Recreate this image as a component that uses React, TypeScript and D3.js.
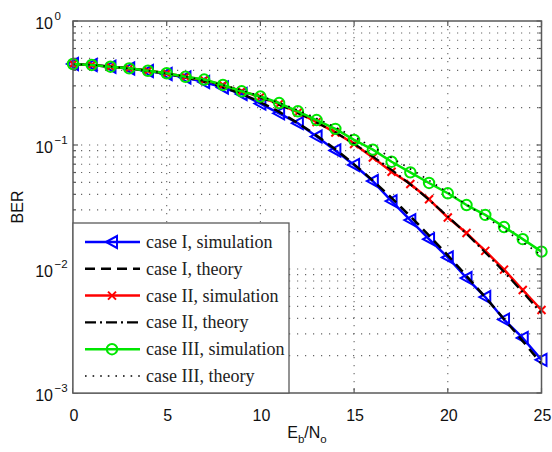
import React from "react";
import * as d3 from "d3";

const EBN0 = [0, 1, 2, 3, 4, 5, 6, 7, 8, 9, 10, 11, 12, 13, 14, 15, 16, 17, 18, 19, 20, 21, 22, 23, 24, 25];

const caseISim = [0.45, 0.442, 0.428, 0.414, 0.395, 0.374, 0.35, 0.322, 0.291, 0.258, 0.216, 0.18, 0.15, 0.117, 0.0903, 0.069, 0.0512, 0.0353, 0.0248, 0.0174, 0.0124, 0.00846, 0.00594, 0.00391, 0.00278, 0.00185];
const caseITheory = [0.449, 0.442, 0.43, 0.415, 0.397, 0.376, 0.351, 0.323, 0.292, 0.258, 0.221, 0.185, 0.15, 0.119, 0.0923, 0.0698, 0.0516, 0.0374, 0.0266, 0.0186, 0.0129, 0.00877, 0.00592, 0.00395, 0.00262, 0.00172];
const caseIISim = [0.45, 0.442, 0.428, 0.415, 0.397, 0.379, 0.355, 0.334, 0.305, 0.272, 0.244, 0.214, 0.183, 0.153, 0.126, 0.102, 0.0793, 0.0609, 0.0485, 0.0365, 0.026, 0.0195, 0.014, 0.00989, 0.00677, 0.00467];
const caseIITheory = [0.449, 0.442, 0.429, 0.414, 0.397, 0.378, 0.355, 0.33, 0.302, 0.272, 0.242, 0.211, 0.181, 0.152, 0.126, 0.102, 0.0807, 0.063, 0.0481, 0.0361, 0.0265, 0.0192, 0.0136, 0.00948, 0.0065, 0.00439];
const caseIIISim = [0.45, 0.442, 0.428, 0.415, 0.397, 0.379, 0.355, 0.337, 0.305, 0.271, 0.246, 0.218, 0.187, 0.159, 0.135, 0.11, 0.0918, 0.0733, 0.0602, 0.0494, 0.0408, 0.0328, 0.0273, 0.0218, 0.0174, 0.0138];
const caseIIITheory = [0.449, 0.442, 0.429, 0.414, 0.397, 0.378, 0.356, 0.331, 0.305, 0.277, 0.248, 0.219, 0.191, 0.164, 0.139, 0.116, 0.0962, 0.0789, 0.0641, 0.0518, 0.0415, 0.0331, 0.0263, 0.0208, 0.0164, 0.0129];

const xTicks = [0, 5, 10, 15, 20, 25];
const yDecades = [1, 0.1, 0.01, 0.001];
const yExponents = ["0", "−1", "−2", "−3"];
const legendLabels = ["case I, simulation", "case I, theory", "case II, simulation", "case II, theory", "case III, simulation", "case III, theory"];

const W = 552, H = 452;
const L = 73, R = 541.5, T = 21, B = 393;

const x = d3.scaleLinear().domain([0, 25]).range([L, R]);
const y = d3.scaleLog().domain([1e-3, 1]).range([B, T]);

const AX = "#5a5a5a";
const SANS = "'Liberation Sans', Arial, Helvetica, sans-serif";
const SERIF = "'Liberation Serif', 'Times New Roman', serif";

type Series = { vals: number[]; color: string; dash?: string; width: number; marker?: "tri" | "x" | "o"; curve?: boolean };

const series: Series[] = [
  { vals: caseISim, color: "#0000ff", width: 2.5, marker: "tri" },
  { vals: caseITheory, color: "#000", width: 2.5, dash: "10,6", curve: true },
  { vals: caseIISim, color: "#ff0000", width: 2.5, marker: "x" },
  { vals: caseIITheory, color: "#000", width: 2.2, dash: "11,4,2,4", curve: true },
  { vals: caseIIISim, color: "#00e600", width: 2.5, marker: "o" },
  { vals: caseIIITheory, color: "#000", width: 1.6, dash: "1.6,6", curve: true },
];

function Marker({ kind, cx, cy, color }: { kind: string; cx: number; cy: number; color: string }) {
  if (kind === "tri")
    return <path d={`M${cx - 6},${cy} L${cx + 5},${cy - 6} L${cx + 5},${cy + 6} Z`} fill="none" stroke={color} strokeWidth={2} strokeLinejoin="miter" />;
  if (kind === "x")
    return (
      <path d={`M${cx - 4},${cy - 4} L${cx + 4},${cy + 4} M${cx - 4},${cy + 4} L${cx + 4},${cy - 4}`} stroke={color} strokeWidth={2} />
    );
  return <circle cx={cx} cy={cy} r={5.2} fill="none" stroke={color} strokeWidth={2} />;
}

export default function App() {
  const minors: number[] = [];
  [0.001, 0.01, 0.1].forEach((d) => {
    for (let k = 1; k <= 9; k++) minors.push(d * k);
  });
  minors.push(1);

  const lineGen = (curve: boolean) =>
    d3
      .line<number>()
      .x((_, i) => x(EBN0[i]))
      .y((v) => y(v))
      .curve(curve ? d3.curveMonotoneX : d3.curveLinear);

  const legX = L, legY = 223, legW = 216, legH = B - 223;
  const rowY = (i: number) => 242 + i * 26.8;

  return (
    <div style={{ position: "fixed", left: 0, top: 0 }}>
      <svg width={W} height={H} style={{ display: "block", background: "#fff" }}>
        {/* grid */}
        <g stroke="#666" strokeWidth={1.1} strokeDasharray="1.2,6.8" fill="none">
          {xTicks.slice(1, -1).map((t) => (
            <line key={"vx" + t} x1={x(t)} x2={x(t)} y1={T} y2={B} />
          ))}
          {minors.slice(1, -1).map((m, i) => (
            <line key={"hy" + i} x1={L} x2={R} y1={y(m)} y2={y(m)} />
          ))}
        </g>

        {/* series */}
        {series.map((s, si) => (
          <g key={si}>
            <path d={lineGen(!!s.curve)(s.vals) || ""} fill="none" stroke={s.color} strokeWidth={s.width} strokeDasharray={s.dash} strokeLinejoin="round" />
            {s.marker && s.vals.map((v, i) => <Marker key={i} kind={s.marker!} cx={x(EBN0[i])} cy={y(v)} color={s.color} />)}
          </g>
        ))}

        {/* frame */}
        <rect x={L} y={T} width={R - L} height={B - T} fill="none" stroke={AX} strokeWidth={1.5} />
        {/* ticks */}
        <g stroke={AX} strokeWidth={1.2}>
          {xTicks.map((t) => (
            <g key={"xt" + t}>
              <line x1={x(t)} x2={x(t)} y1={B} y2={B - 5} />
              <line x1={x(t)} x2={x(t)} y1={T} y2={T + 5} />
            </g>
          ))}
          {minors.map((m, i) => {
            const major = yDecades.some((d) => Math.abs(d - m) < 1e-9);
            const len = major ? 5 : 3;
            return (
              <g key={"yt" + i}>
                <line x1={L} x2={L + len} y1={y(m)} y2={y(m)} />
                <line x1={R} x2={R - len} y1={y(m)} y2={y(m)} />
              </g>
            );
          })}
        </g>

        {/* x tick labels */}
        <g fontFamily={SANS} fontSize={16} fill="#111" textAnchor="middle">
          {xTicks.map((t) => (
            <text key={"xl" + t} x={x(t) + 1} y={420.5}>
              {t}
            </text>
          ))}
        </g>
        {/* y tick labels */}
        <g fontFamily={SANS} fill="#111">
          {yDecades.map((d, i) => (
            <g key={"yl" + i}>
              <text x={53} y={y(d) + 7.5} fontSize={16} textAnchor="end">
                10
              </text>
              <text x={54.5} y={y(d) - 1.5} fontSize={11.5} textAnchor="start">
                {yExponents[i]}
              </text>
            </g>
          ))}
        </g>

        {/* axis labels */}
        <text transform={`translate(23,${(T + B) / 2}) rotate(-90)`} textAnchor="middle" fontFamily={SANS} fontSize={16} fill="#111">
          BER
        </text>
        <text x={307} y={438} textAnchor="middle" fontFamily={SANS} fontSize={16} fill="#111">
          E<tspan fontSize={11.5} dy={5}>b</tspan>
          <tspan dy={-5}>/N</tspan>
          <tspan fontSize={11.5} dy={5}>o</tspan>
        </text>

        {/* legend */}
        <rect x={legX} y={legY} width={legW} height={legH} fill="#fff" stroke={AX} strokeWidth={1.3} />
        {series.map((s, i) => (
          <g key={"lg" + i}>
            <line x1={85} x2={140} y1={rowY(i)} y2={rowY(i)} stroke={s.color} strokeWidth={s.width} strokeDasharray={s.dash} />
            {s.marker && <Marker kind={s.marker} cx={112} cy={rowY(i)} color={s.color} />}
            <text x={146} y={rowY(i) + 6} fontFamily={SERIF} fontSize={18} fill="#222">
              {legendLabels[i]}
            </text>
          </g>
        ))}
      </svg>
    </div>
  );
}
